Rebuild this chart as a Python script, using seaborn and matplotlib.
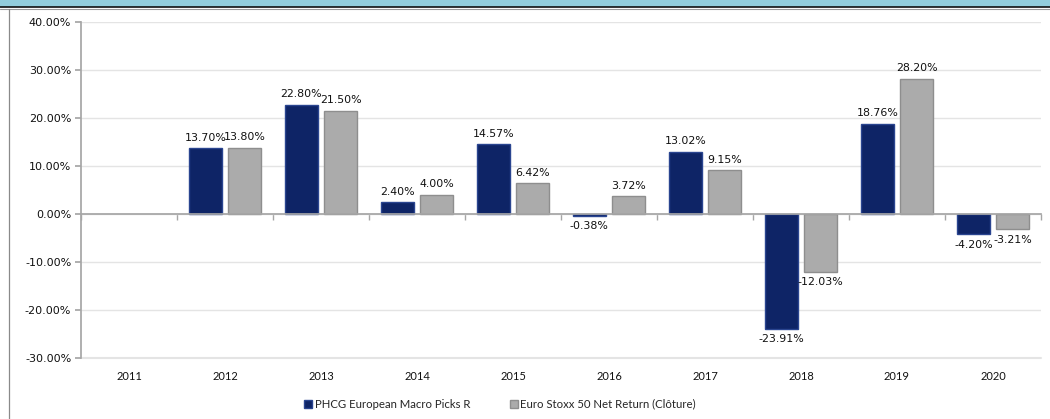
import numpy as np
import pandas as pd
import matplotlib
matplotlib.use("Agg")
import matplotlib.pyplot as plt
import seaborn as sns
from matplotlib.patches import Rectangle, Patch
from matplotlib.lines import Line2D

years = ["2011", "2012", "2013", "2014", "2015", "2016", "2017", "2018", "2019", "2020"]
phcg = [np.nan, 13.70, 22.80, 2.40, 14.57, -0.38, 13.02, -23.91, 18.76, -4.20]
stoxx = [np.nan, 13.80, 21.50, 4.00, 6.42, 3.72, 9.15, -12.03, 28.20, -3.21]
series_names = ["PHCG European Macro Picks R", "Euro Stoxx 50 Net Return (Clôture)"]
colors = ["#0E2466", "#ABABAB"]
edges = ["#2A4590", "#8E8E8E"]

df = pd.DataFrame({
    "year": years * 2,
    "value": phcg + stoxx,
    "series": [series_names[0]] * len(years) + [series_names[1]] * len(years),
})

sns.set_theme(style="white")
plt.rcParams["font.family"] = ["DejaVu Sans"]

fig = plt.figure(figsize=(10.5, 4.19), dpi=100)
ax = fig.add_axes([81 / 1050, 1 - 358 / 419, 960 / 1050, 336 / 419])

sns.barplot(data=df, x="year", y="value", hue="series", order=years,
            hue_order=series_names, palette=colors, width=0.82, gap=0.16,
            ax=ax, legend=False, saturation=1)

for cont, ec in zip(ax.containers, edges):
    for bar in cont:
        bar.set_edgecolor(ec)
        bar.set_linewidth(1.0)
    for bar, v in zip(cont, cont.datavalues):
        if np.isnan(v):
            continue
        x = bar.get_x() + bar.get_width() / 2
        if v >= 0:
            ax.annotate(f"{v:.2f}%", (x, v), xytext=(0, 4), textcoords="offset points",
                        ha="center", va="bottom", fontsize=7.9, color="#111111")
        else:
            ax.annotate(f"{v:.2f}%", (x, v), xytext=(0, -4), textcoords="offset points",
                        ha="center", va="top", fontsize=7.9, color="#111111")

ax.set_ylim(-30, 40)
ax.set_xlim(-0.5, len(years) - 0.5)
yt = np.arange(-30, 41, 10)
ax.set_yticks(yt)
ax.set_yticklabels([f"{t:.2f}%" for t in yt], fontsize=8, color="#111111")
ax.yaxis.grid(True, color="#E4E4E4", lw=1)
ax.axhline(-30, color="#E4E4E4", lw=1.5, clip_on=False, zorder=0)
ax.set_axisbelow(True)
ax.set_xlabel("")
ax.set_ylabel("")

for s in ["top", "right"]:
    ax.spines[s].set_visible(False)
ax.spines["left"].set_color("#A6A6A6")
ax.spines["bottom"].set_color("#A6A6A6")
ax.spines["bottom"].set_position(("data", 0))
ax.tick_params(axis="y", which="major", left=True, length=4, color="#A6A6A6", pad=3)
ax.set_xticks(range(len(years)))
ax.set_xticklabels(years, fontsize=8, family="Lato", color="#111111")
ax.set_xticks(np.arange(-0.5, len(years), 1.0), minor=True)
ax.tick_params(axis="x", which="major", length=0, pad=113)
ax.tick_params(axis="x", which="minor", bottom=True, length=4, color="#A6A6A6", direction="out")

handles = [Patch(facecolor=c, edgecolor=e) for c, e in zip(colors, edges)]
fig.legend(handles, series_names, loc="center", bbox_to_anchor=(500 / 1050, 1 - 404 / 419),
           ncol=2, frameon=False, prop={"family": "Lato", "size": 8.2},
           handlelength=0.7, handleheight=0.7, handletextpad=0.2, columnspacing=3.5)

fig.patches.append(Rectangle((0, 1 - 7 / 419), 1, 7 / 419, transform=fig.transFigure,
                             facecolor="#92CDDC", edgecolor="none"))
fig.lines.append(Line2D([0, 1], [1 - 7.5 / 419, 1 - 7.5 / 419], transform=fig.transFigure,
                        color="#111111", lw=1.2))
fig.lines.append(Line2D([0, 1], [1 - 9 / 419, 1 - 9 / 419], transform=fig.transFigure,
                        color="#9A9A9A", lw=0.8))
fig.lines.append(Line2D([8.5 / 1050, 8.5 / 1050], [0, 1 - 9 / 419], transform=fig.transFigure,
                        color="#8A8A8A", lw=0.9))

fig.savefig("out.png", dpi=100)
